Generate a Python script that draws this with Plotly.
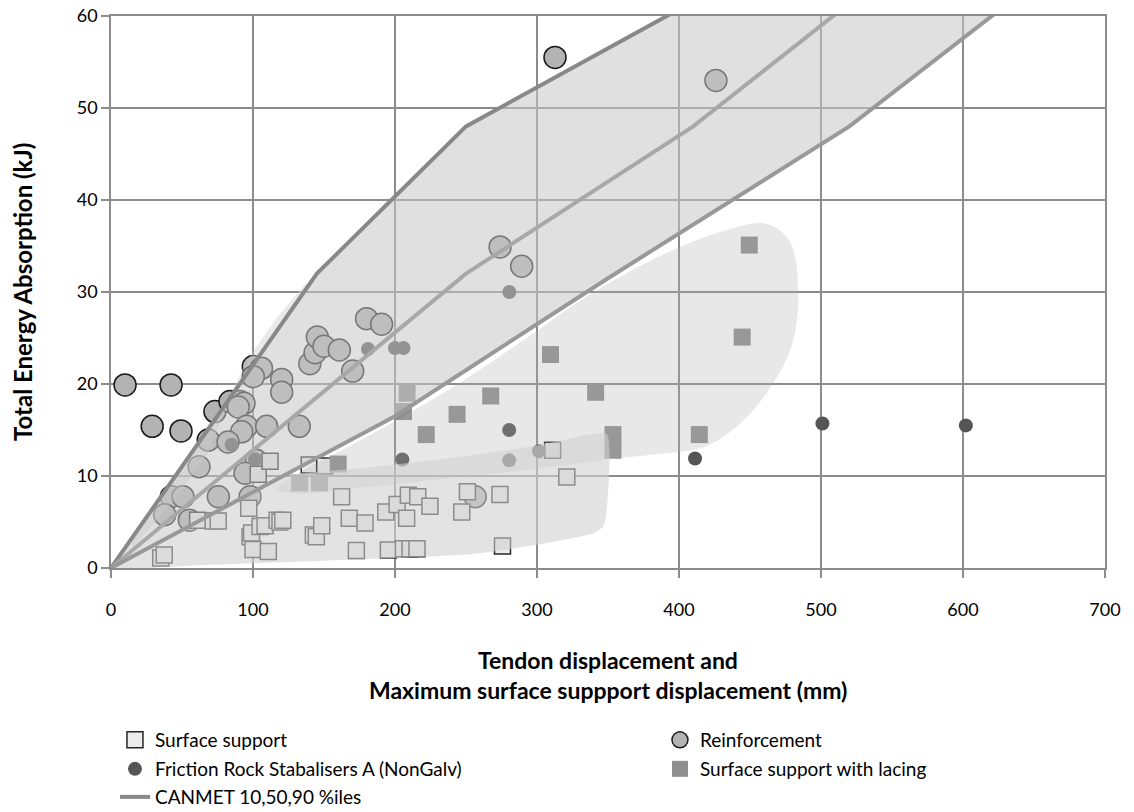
import plotly.graph_objects as go

# ---------------- data ----------------
# Surface support (hollow light squares)
ss_x = [35, 37.5, 61, 72, 75.5, 97, 97.9, 99, 100, 103.7, 105, 108.5, 110.8, 112, 117, 119, 121,
        139.6, 142.5, 144.6, 148.4, 150.5, 162.4, 167.8, 172.8, 178.9, 193.5, 195.3, 201.5, 205.9,
        208.2, 209.4, 210.6, 215.5, 216, 224.6, 247, 251, 273.9, 275.7, 311, 321]
ss_y = [1.1, 1.4, 5.2, 5.1, 5.1, 6.5, 3.4, 3.8, 2.0, 10.2, 4.5, 4.6, 1.8, 11.6, 5.2, 5.0, 5.2,
        11.2, 3.6, 3.4, 4.6, 11.1, 7.75, 5.4, 1.9, 4.9, 6.1, 1.95, 6.9, 2.1,
        5.4, 7.9, 2.1, 2.1, 7.75, 6.7, 6.1, 8.3, 8.0, 2.4, 12.8, 9.9]

# Reinforcement (circles)
reinf_x = [9.9, 42.3, 29, 49.3, 312.7, 426, 274, 289.2, 73.2, 83.8, 90.8, 93.7, 89.6, 95.5, 92,
           109.6, 68.5, 82.4, 62, 102.3, 94.4, 42.5, 50.7, 75.6, 97.9, 37.8, 55.2, 100.2, 106,
           100.2, 120.2, 120.2, 140, 143.7, 145.3, 150, 160.8, 170.2, 180, 190.6, 132.6, 256.5]
reinf_y = [19.9, 19.9, 15.4, 14.9, 55.5, 53.0, 34.9, 32.8, 17.0, 18.1, 18.1, 17.9, 17.5, 15.4, 14.8,
           15.4, 13.9, 13.7, 11.0, 11.7, 10.3, 7.75, 7.75, 7.75, 7.75, 5.8, 5.2, 21.9, 21.7,
           20.8, 20.5, 19.1, 22.2, 23.4, 25.1, 24.1, 23.7, 21.4, 27.1, 26.5, 15.4, 7.75]

# Friction Rock Stabalisers A (NonGalv)
frs_x = [85, 101.5, 181, 200, 206, 205.2, 280.5, 280.4, 280.4, 301.4, 411.3, 501, 602]
frs_y = [13.4, 11.8, 23.8, 23.9, 23.9, 11.8, 30.0, 15.0, 11.7, 12.7, 11.9, 15.7, 15.5]

# Surface support with lacing
lace_x = [132.8, 146.8, 160, 206, 208.5, 222, 243.7, 267.4, 309.5, 341.3, 353.5, 353.5, 414.3, 444.5, 449.5]
lace_y = [9.25, 9.25, 11.3, 17.0, 19.0, 14.5, 16.7, 18.7, 23.2, 19.1, 14.5, 12.8, 14.5, 25.1, 35.1]

# CANMET percentile curves
c90_x = [0, 145, 250, 415]
c90_y = [0, 32, 48, 62]
c50_x = [0, 145, 250, 410, 525]
c50_y = [0, 18.5, 32, 48, 62]
c10_x = [0, 200, 350, 520, 637]
c10_y = [0, 16.5, 31.5, 48, 62]

# Hand-drawn envelope outlines
lace_env_x = [117, 135, 160, 190, 240, 290, 340, 395, 435, 462, 478, 484, 480, 466, 445, 420,
              380, 350, 300, 246, 180, 130, 117]
lace_env_y = [8.6, 10.6, 12.6, 15.1, 19.6, 24.7, 30.0, 34.5, 36.8, 37.4, 35.5, 30, 24.5, 20, 16,
              13.3, 12.3, 11.8, 10.8, 9.9, 8.8, 8.1, 8.6]
ss_env_x = [0, 60, 120, 180, 246, 300, 349, 351, 350, 347, 340, 260, 150, 60, 0]
ss_env_y = [0, 5.0, 9.9, 10.9, 12.1, 13.3, 14.6, 13, 8, 4.6, 3.8, 1.6, 0.8, 0.3, 0]
wedge_x = [15, 45, 70, 82, 95, 115, 132, 145, 100, 60, 30, 15]
wedge_y = [2.2, 7.5, 13.0, 18.0, 22.3, 26.8, 30.0, 32, 22.07, 13.24, 6.62, 3.3]

tick_x = [0, 100, 200, 300, 400, 500, 600, 700]
tick_y = [0, 10, 20, 30, 40, 50, 60]

GRID = "#8c8c8c"
FONT = "Lato, 'Liberation Sans', sans-serif"
COL1_W = 500

fig = go.Figure()

# markers (drawn first, shading overlays them)
fig.add_trace(go.Scatter(x=reinf_x, y=reinf_y, mode="markers", name="Reinforcement",
                         legend="legend", legendrank=2,
                         marker=dict(symbol="circle", size=22, color="#b3b3b3",
                                     line=dict(color="#1a1a1a", width=1.5))))
fig.add_trace(go.Scatter(x=ss_x, y=ss_y, mode="markers", name="Surface support",
                         legend="legend", legendrank=1, legendwidth=COL1_W,
                         marker=dict(symbol="square", size=16, color="#ececec",
                                     line=dict(color="#262626", width=1.5))))
fig.add_trace(go.Scatter(x=lace_x, y=lace_y, mode="markers", name="Surface support with lacing",
                         legend="legend2", legendrank=2,
                         marker=dict(symbol="square", size=17, color="#8f8f8f", line=dict(width=0))))
fig.add_trace(go.Scatter(x=frs_x, y=frs_y, mode="markers", name="Friction Rock Stabalisers A (NonGalv)",
                         legend="legend2", legendrank=1, legendwidth=COL1_W,
                         marker=dict(symbol="circle", size=14, color="#555555", line=dict(width=0))))

# shaded envelopes (semi-transparent, on top of markers)
band_x = c90_x + c10_x[::-1]
band_y = c90_y + c10_y[::-1]
fig.add_trace(go.Scatter(x=wedge_x, y=wedge_y, mode="lines", fill="toself",
                         fillcolor="rgba(205,205,205,0.42)", line=dict(width=0, shape="spline", smoothing=0.5),
                         showlegend=False, hoverinfo="skip"))
fig.add_trace(go.Scatter(x=band_x, y=band_y, mode="lines", fill="toself",
                         fillcolor="rgba(199,199,199,0.55)", line=dict(width=0),
                         showlegend=False, hoverinfo="skip"))
fig.add_trace(go.Scatter(x=lace_env_x, y=lace_env_y, mode="lines", fill="toself",
                         fillcolor="rgba(177,177,177,0.29)", line=dict(width=0, shape="spline"),
                         showlegend=False, hoverinfo="skip"))
fig.add_trace(go.Scatter(x=ss_env_x, y=ss_env_y, mode="lines", fill="toself",
                         fillcolor="rgba(209,209,209,0.6)", line=dict(width=0, shape="spline", smoothing=0.6),
                         showlegend=False, hoverinfo="skip"))

# CANMET lines
fig.add_trace(go.Scatter(x=c90_x, y=c90_y, mode="lines", name="CANMET 10,50,90 %iles",
                         legend="legend3", legendgroup="canmet", line=dict(color="#888888", width=4)))
fig.add_trace(go.Scatter(x=c50_x, y=c50_y, mode="lines", showlegend=False, legendgroup="canmet",
                         legend="legend3", line=dict(color="#a8a8a8", width=4), hoverinfo="skip"))
fig.add_trace(go.Scatter(x=c10_x, y=c10_y, mode="lines", showlegend=False, legendgroup="canmet",
                         legend="legend3", line=dict(color="#999999", width=4), hoverinfo="skip"))

axis_common = dict(showgrid=True, gridcolor=GRID, gridwidth=1.5, showline=True, linecolor=GRID,
                   linewidth=1.5, mirror=True, ticks="outside", ticklen=8, tickcolor=GRID,
                   tickwidth=1.5, zeroline=False, ticklabeloverflow="allow",
                   tickfont=dict(size=18, color="#000", family=FONT))

legend_common = dict(orientation="h", x=0.004, xanchor="left", yanchor="middle",
                     font=dict(size=19, color="#000", family=FONT), bgcolor="rgba(0,0,0,0)")

fig.update_layout(
    width=1134, height=812,
    margin=dict(l=111, r=29, t=16, b=244, autoexpand=False),
    plot_bgcolor="white", paper_bgcolor="white",
    font=dict(family=FONT, size=18, color="#000"),
    xaxis=dict(range=[0, 700], tickvals=tick_x, ticklabelstandoff=17, **axis_common),
    yaxis=dict(range=[0, 60], tickvals=tick_y, **axis_common),
    legend=dict(y=-0.3116, **legend_common),
    legend2=dict(y=-0.3641, **legend_common),
    legend3=dict(y=-0.4149, **legend_common),
    annotations=[
        dict(text="<b>Total Energy Absorption (kJ)</b>", xref="paper", yref="paper",
             x=-0.0895, y=0.5, xanchor="center", yanchor="middle", textangle=-90,
             showarrow=False, font=dict(size=24)),
        dict(text="<b>Tendon displacement and</b>", xref="paper", yref="paper",
             x=0.5, y=-0.1667, xanchor="center", yanchor="middle", showarrow=False,
             font=dict(size=23)),
        dict(text="<b>Maximum surface suppport displacement (mm)</b>", xref="paper", yref="paper",
             x=0.5, y=-0.221, xanchor="center", yanchor="middle", showarrow=False,
             font=dict(size=23)),
    ],
)

# remove the browser's default 8px page margin so the figure fills the window exactly
fig.write_html("out.html",
               config={"displayModeBar": False},
               post_script="document.body.style.margin='0px';document.body.style.overflow='hidden';")
